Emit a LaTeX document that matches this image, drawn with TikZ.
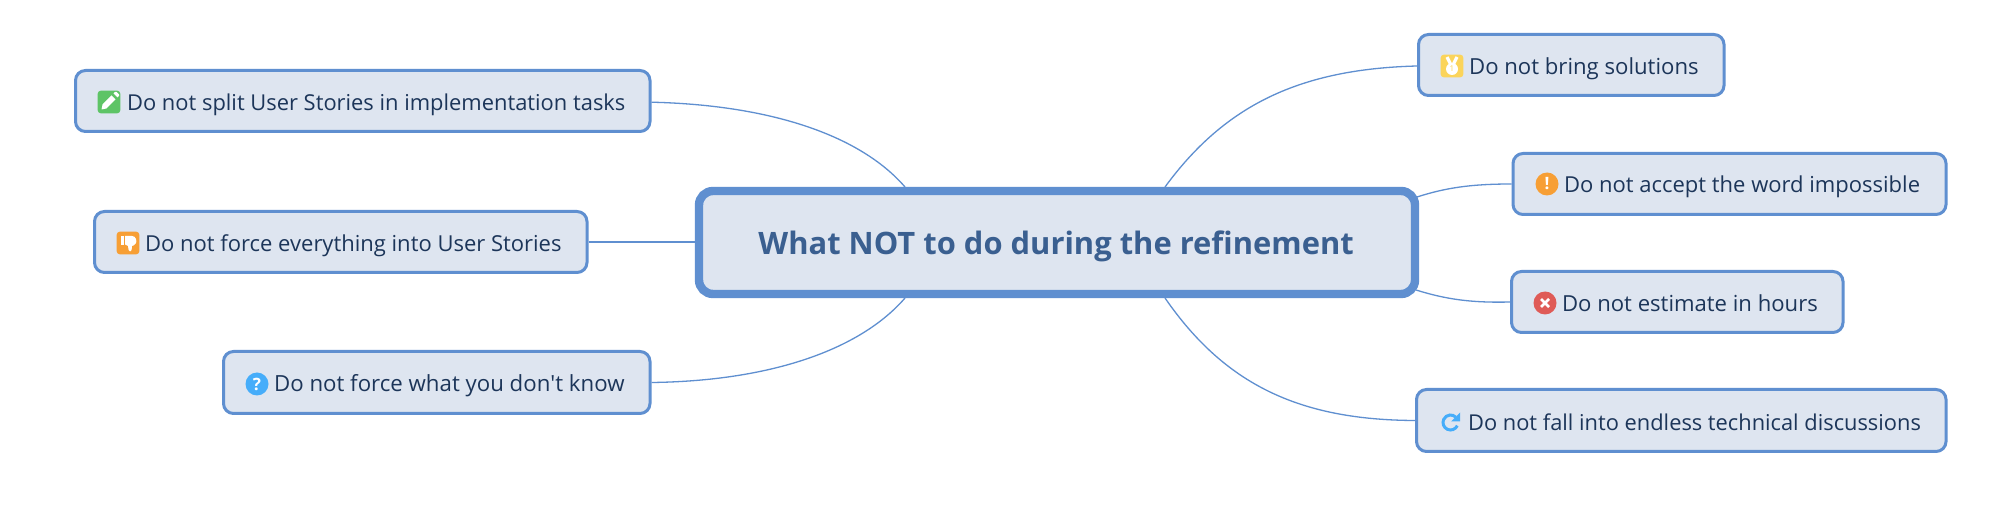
\documentclass[tikz,border=0pt]{standalone}
\usepackage{fontspec}
\setmainfont{Open Sans}
\usetikzlibrary{calc,arrows.meta}
\definecolor{edgeblue}{HTML}{5F8FD0}
\definecolor{boxfill}{HTML}{DEE5F0}
\definecolor{txtdark}{HTML}{1C3559}
\definecolor{txtmain}{HTML}{3A5F90}
\definecolor{icgreen}{HTML}{5EC466}
\definecolor{icorange}{HTML}{F79F35}
\definecolor{icblue}{HTML}{46ADFA}
\definecolor{icyellow}{HTML}{FBD45A}
\definecolor{icred}{HTML}{DF5B57}
\tikzset{
  topicbox/.style n args={2}{draw=edgeblue,fill=boxfill,line width=1.5pt,rounded corners=5pt,
    inner sep=0pt,minimum width=#1*0.5pt,minimum height=#2*0.5pt},
  mainbox/.style n args={2}{draw=edgeblue,fill=boxfill,line width=4.2pt,rounded corners=7pt,
    inner sep=0pt,minimum width=#1*0.5pt,minimum height=#2*0.5pt},
  toplabel/.style={anchor=base west,inner sep=0pt,text=txtdark,font=\fontsize{#1}{13}\selectfont},
  mainlabel/.style={anchor=base west,inner sep=0pt,text=txtmain,font=\fontsize{15.45}{18}\selectfont\bfseries},
  link/.style={draw=edgeblue,line width=0.65pt},
  squareicon/.style={rounded corners=1.5pt,minimum size=11.3pt,inner sep=0pt,fill=#1},
  roundicon/.style={circle,minimum size=11.5pt,inner sep=0pt,fill=#1},
  glyph/.style={text=white,inner sep=0pt,font=\fontsize{8.5}{9}\selectfont\bfseries},
}
\begin{document}
\begin{tikzpicture}[x=0.5pt,y=-0.5pt]
\useasboundingbox (0,0) rectangle (2000,517);
\fill[white] (0,0) rectangle (2000,517);
% boxes
\node[mainbox={716}{103}] (main) at (1057,242.5) {};
\node[topicbox={574.5}{61}] (l1) at (362.75,101) {};
\node[topicbox={492.5}{61}] (l2) at (340.75,242) {};
\node[topicbox={426.5}{62}] (l3) at (436.75,382.5) {};
\node[topicbox={305.5}{61}] (r1) at (1571.25,65) {};
\node[topicbox={433}{61}] (r2) at (1729.5,184) {};
\node[topicbox={331.5}{61}] (r3) at (1677.25,302) {};
\node[topicbox={529.5}{62}] (r4) at (1681.25,420.5) {};
% labels
\node[mainlabel] (tmain) at (758,255) {What NOT to do during the refinement};
\node[toplabel=10.95] (tl1) at (126.7,110.5) {Do not split User Stories in implementation tasks};
\node[toplabel=11] (tl2) at (144.7,252) {Do not force everything into User Stories};
\node[toplabel=11.12] (tl3) at (273.7,392) {Do not force what you don\textquotesingle t know};
\node[toplabel=11.07] (tr1) at (1468.7,75) {Do not bring solutions};
\node[toplabel=11] (tr2) at (1563.7,193) {Do not accept the word impossible};
\node[toplabel=11.05] (tr3) at (1561.7,312) {Do not estimate in hours};
\node[toplabel=10.92] (tr4) at (1467.7,430) {Do not fall into endless technical discussions};
% attachment points on the central box
\coordinate (mtl) at (905,187);
\coordinate (mbl) at (905,298);
\coordinate (mtr) at (1165,187);
\coordinate (mbr) at (1165,298);
\coordinate (mr2) at (1417,197);
\coordinate (mr3) at (1416,290);
\coordinate (l1a) at ($(l1.east)+(0,1.2)$);
\coordinate (r1a) at ($(r1.west)+(0,1)$);
% connectors
\draw[link] (l1a) .. controls (770,105) and (860,135) .. (mtl);
\draw[link] (l2.east) -- (main.west |- l2.east);
\draw[link] (l3.east) .. controls (770,381) and (860,350) .. (mbl);
\draw[link] (r1a) .. controls (1300,69) and (1225,105) .. (mtr);
\draw[link] (r2.west) .. controls (1470,184) and (1445,188) .. (mr2);
\draw[link] (r3.west) .. controls (1470,303) and (1445,299) .. (mr3);
\draw[link] (r4.west) .. controls (1300,420) and (1225,385) .. (mbr);
% pencil icon
\node[squareicon=icgreen] (il1) at (109,102) {};
\fill[white] (il1.center) ++(-7.5,7.5) -- ++(1,-5) -- ++(9,-9) -- ++(4,4) -- ++(-9,9) -- cycle;
\fill[white] (il1.center) ++(4.5,-8.5) -- ++(1.5,-1.5) -- ++(1.5,0) -- ++(2.5,2.5) -- ++(0,1.5) -- ++(-1.5,1.5) -- cycle;
% thumb down icon
\node[squareicon=icorange] (il2) at (128,243) {};
\begin{scope}[shift={(il2.center)}]
\fill[white] (-7,-7) rectangle (-4.2,2);
\fill[white] (-3,-7) -- (4,-7) .. controls (8,-7) and (9,-2) .. (8,0) .. controls (7,2) and (5,3) .. (4,3)
  -- (3.6,7) .. controls (3.4,9) and (0.8,9) .. (0.6,7) -- (0,3) -- (-3,1.5) -- cycle;
\end{scope}
% question icon
\node[roundicon=icblue] (il3) at (257,384) {};
\node[glyph] at (il3.center) {?};
% medal icon
\node[squareicon=icyellow] (ir1) at (1452,66) {};
\draw[white,line width=1.6pt] (ir1.center) ++(-5,-9) -- ++(5,10) -- ++(5,-10);
\fill[white] (ir1.center) ++(0,3) circle (6);
\node[text=icyellow,inner sep=0pt,font=\fontsize{4}{5}\selectfont] at ($(ir1.center)+(0,3)$) {1};
% exclamation icon
\node[roundicon=icorange] (ir2) at (1547,184) {};
\node[glyph] at (ir2.center) {!};
% cross icon
\node[roundicon=icred] (ir3) at (1545,303) {};
\draw[white,line width=1.3pt] (ir3.center) ++(-4,-4) -- ++(8,8) ++(-8,0) -- ++(8,-8);
% refresh icon
\coordinate (ir4) at (1450.5,422.5);
\draw[icblue,line width=1.5pt] (ir4) ++(25:7.5) arc[start angle=25,end angle=315,radius=7.5];
\fill[icblue] (ir4) ++(9.5,-10) -- ++(0,9) -- ++(-9,0) -- cycle;
\end{tikzpicture}
\end{document}
